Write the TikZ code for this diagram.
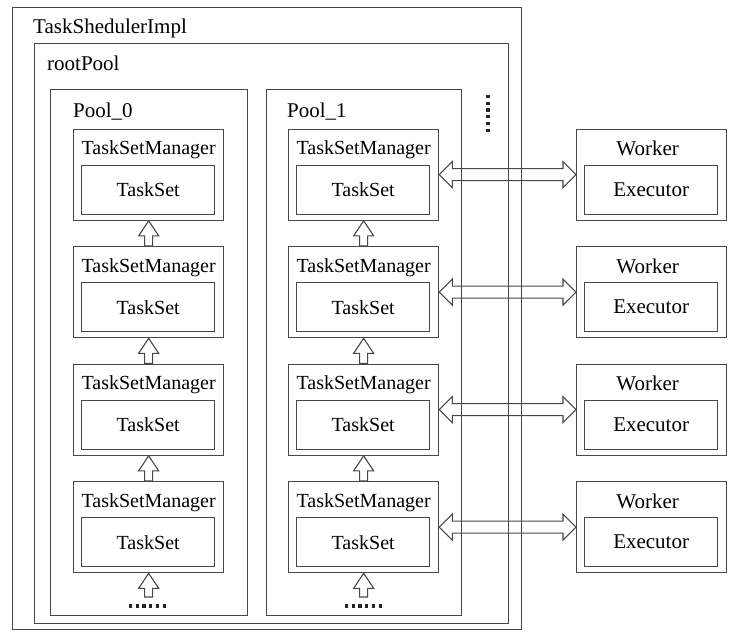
\documentclass[tikz,border=0pt]{standalone}
\usepackage{fontspec}
\setmainfont{Liberation Serif}
\newfontfamily\srfont{Liberation Serif}
\usetikzlibrary{calc}
\newcommand\uparr[2]{\draw[arr] let \p1=(#1), \p2=(#2) in (\x1-4pt,\y2) -- (\x1-4pt,\y1-15pt) -- (\x1-10pt,\y1-15pt) -- (\p1) -- (\x1+10pt,\y1-15pt) -- (\x1+4pt,\y1-15pt) -- (\x1+4pt,\y2) -- cycle;}
\newcommand\dblarr[2]{\draw[arr] let \p1=(#1), \p2=(#2) in (\p1) -- (\x1+13pt,\y1+13pt) -- (\x1+13pt,\y1+6pt) -- (\x2-13pt,\y1+6pt) -- (\x2-13pt,\y1+13pt) -- (\x2,\y1) -- (\x2-13pt,\y1-13pt) -- (\x2-13pt,\y1-6pt) -- (\x1+13pt,\y1-6pt) -- (\x1+13pt,\y1-13pt) -- cycle;}
\begin{document}
\begin{tikzpicture}[x=1pt,y=-1pt,
  box/.style={draw=black!72, line width=1.3pt, rectangle, inner sep=0pt, anchor=north west},
  bigtxt/.style={font=\srfont\fontsize{21}{24}\selectfont},
  midtxt/.style={font=\srfont\fontsize{20}{23}\selectfont},
  tsmbox/.style={box, minimum width=150pt, minimum height=91pt},
  setbox/.style={box, minimum width=133pt, minimum height=49pt, midtxt, text=black},
  exbox/.style={box, minimum width=133pt, minimum height=49pt, bigtxt, text=black},
  lbl/.style={inner sep=0pt, text=black},
  arr/.style={draw=black!72, line width=1.1pt, line join=miter},
  dotline/.style={draw=black!85, line width=3.4pt, dash pattern=on 3.2pt off 3.5pt}]
\useasboundingbox (0,0) rectangle (738,641);
% containers
\node[box, minimum width=509pt, minimum height=622pt] (outer) at (12,7) {};
\node[lbl, bigtxt, anchor=base west] (outerlbl) at (33,33) {TaskShedulerImpl};
\node[box, minimum width=474pt, minimum height=580pt] (root) at (34,43) {};
\node[lbl, bigtxt, anchor=base west] (rootlbl) at (47,70) {rootPool};
\node[box, minimum width=197pt, minimum height=526pt] (poola) at (50,89) {};
\node[lbl, bigtxt, anchor=base west] (poolalbl) at (73,117) {Pool\_0};
\node[box, minimum width=195pt, minimum height=526pt] (poolb) at (266,89) {};
\node[lbl, bigtxt, anchor=base west] (poolblbl) at (287,117) {Pool\_1};
% rows
\foreach \i in {0,...,3}{
  \pgfmathsetmacro\T{128.5+117.5*\i}
  \node[tsmbox] (ma\i) at (73,\T) {};
  \node[lbl, midtxt, anchor=base] (lma\i) at ($(ma\i.north)+(0,26)$) {TaskSetManager};
  \node[setbox] (sa\i) at (81,\T+36) {TaskSet};
  \node[tsmbox] (mb\i) at (288,\T) {};
  \node[lbl, midtxt, anchor=base] (lmb\i) at ($(mb\i.north)+(0,26)$) {TaskSetManager};
  \node[setbox] (sb\i) at (296,\T+36) {TaskSet};
  \node[box, minimum width=150pt, minimum height=91pt] (w\i) at (576,\T) {};
  \node[lbl, bigtxt, anchor=base] (lw\i) at ($(w\i.north)+(-4,27)$) {Worker};
  \node[exbox] (e\i) at (584,\T+36) {Executor};
  \dblarr{mb\i.east}{w\i.west}
}
\foreach \i [evaluate=\i as \j using int(\i+1)] in {0,1,2}{
  \uparr{ma\i.south}{ma\j.north}
  \uparr{mb\i.south}{mb\j.north}
}
\coordinate (enda) at (148,597);
\coordinate (endb) at (362,597);
\uparr{ma3.south}{enda}
\uparr{mb3.south}{endb}
% ellipsis marks
\coordinate (da1) at (129,606); \coordinate (da2) at (166,606);
\coordinate (db1) at (345,606); \coordinate (db2) at (382,606);
\coordinate (dc1) at (488,95); \coordinate (dc2) at (488,132);
\draw[dotline] (da1) -- (da2);
\draw[dotline] (db1) -- (db2);
\draw[dotline] (dc1) -- (dc2);
\end{tikzpicture}
\end{document}
